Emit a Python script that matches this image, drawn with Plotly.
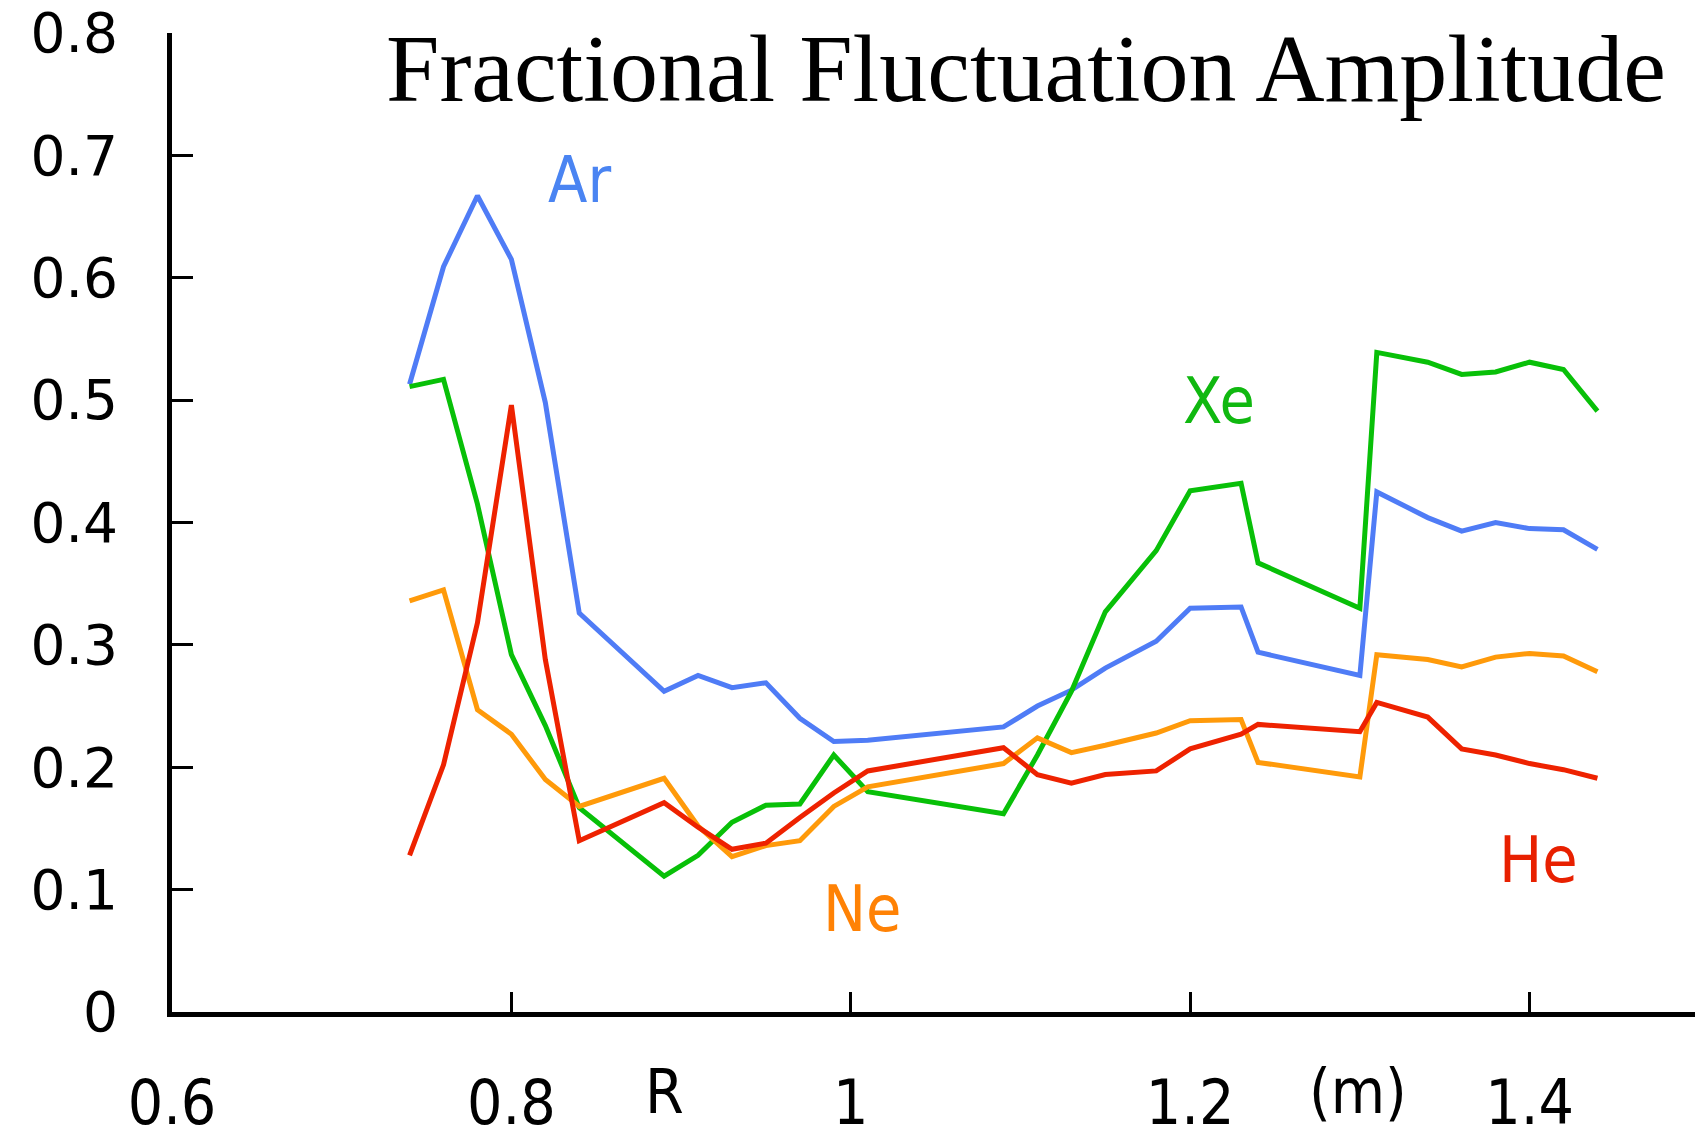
import plotly.graph_objects as go

# Major radius R (m) of each measurement point
r_ar = [0.74, 0.76, 0.78, 0.80, 0.82, 0.84, 0.89, 0.91, 0.93, 0.95, 0.97, 0.99, 1.01,
        1.09, 1.11, 1.13, 1.15, 1.18, 1.20, 1.23, 1.24, 1.30, 1.31, 1.34, 1.36, 1.38,
        1.40, 1.42, 1.44]
r_xe = r_ar
r_ne = r_ar
r_he = r_ar

# Fractional fluctuation amplitude for each gas
amp_ar = [0.513, 0.609, 0.667, 0.615, 0.498, 0.326, 0.262, 0.275, 0.265, 0.269, 0.240,
          0.221, 0.222, 0.233, 0.250, 0.263, 0.281, 0.303, 0.330, 0.331, 0.294, 0.275,
          0.425, 0.404, 0.393, 0.400, 0.395, 0.394, 0.378]
amp_xe = [0.511, 0.517, 0.415, 0.292, 0.234, 0.167, 0.111, 0.128, 0.155, 0.169, 0.170,
          0.210, 0.180, 0.162, 0.210, 0.262, 0.327, 0.377, 0.426, 0.432, 0.367, 0.330,
          0.539, 0.531, 0.521, 0.523, 0.531, 0.525, 0.491]
amp_ne = [0.336, 0.345, 0.247, 0.227, 0.190, 0.168, 0.191, 0.152, 0.127, 0.136, 0.140,
          0.168, 0.184, 0.203, 0.224, 0.212, 0.218, 0.228, 0.238, 0.239, 0.204, 0.192,
          0.292, 0.288, 0.282, 0.290, 0.293, 0.291, 0.278]
amp_he = [0.128, 0.202, 0.318, 0.496, 0.288, 0.140, 0.171, 0.151, 0.133, 0.138, 0.159,
          0.179, 0.197, 0.216, 0.194, 0.187, 0.194, 0.197, 0.215, 0.227, 0.235, 0.229,
          0.253, 0.241, 0.215, 0.210, 0.203, 0.198, 0.191]

series = [
    ("Ar", r_ar, amp_ar, "#4f7cf6", "#4a84f2", 0.840, 0.680),
    ("Xe", r_xe, amp_xe, "#08c008", "#10b810", 1.217, 0.499),
    ("Ne", r_ne, amp_ne, "#ff9a0a", "#ff8205", 1.007, 0.084),
    ("He", r_he, amp_he, "#ee2200", "#e82000", 1.405, 0.124),
]

x_ticks = [0.6, 0.8, 1.0, 1.2, 1.4]
y_ticks = [0, 0.1, 0.2, 0.3, 0.4, 0.5, 0.6, 0.7, 0.8]

sans = "DejaVu Sans"
cond = "DejaVu Sans Condensed, DejaVu Sans"
serif = "Liberation Serif, Times New Roman, serif"

fig = go.Figure()
for name, xs, ys, line_color, _, _, _ in series:
    fig.add_trace(go.Scatter(x=xs, y=ys, mode="lines", name=name,
                             line=dict(color=line_color, width=5),
                             showlegend=False))

annotations = []
for name, _, _, _, text_color, lx, ly in series:
    annotations.append(dict(x=lx, y=ly, xref="x", yref="y", text=name,
                            showarrow=False, xanchor="center", yanchor="middle",
                            font=dict(family=cond, size=64, color=text_color)))

annotations += [
    dict(x=1.103, y=0.771, xref="x", yref="y", text="Fractional Fluctuation Amplitude",
         showarrow=False, xanchor="center", yanchor="middle",
         font=dict(family=serif, size=96, color="black")),
    # axis caption split around the tick labels
    dict(x=0.890, y=-0.081, xref="x", yref="paper", text="R", showarrow=False,
         xanchor="center", yanchor="middle",
         font=dict(family=cond, size=62, color="black")),
    dict(x=1.299, y=-0.081, xref="x", yref="paper", text="(m)", showarrow=False,
         xanchor="center", yanchor="middle",
         font=dict(family=cond, size=62, color="black")),
]

fig.update_layout(
    width=1695, height=1140,
    margin=dict(l=172, r=0, t=33, b=128, pad=0),
    paper_bgcolor="white", plot_bgcolor="white",
    annotations=annotations,
)

fig.update_xaxes(range=[0.6, 1.4975], tickvals=x_ticks, ticktext=["0.6", "0.8", "1", "1.2", "1.4"],
                 automargin=False, ticklabeloverflow="allow",
                 showgrid=False, zeroline=False, showline=True, linecolor="black", linewidth=5,
                 ticks="inside", ticklen=20, tickwidth=3, tickcolor="black",
                 ticklabelstandoff=33,
                 tickfont=dict(family=cond, size=62, color="black"))
fig.update_yaxes(range=[0, 0.8], tickvals=y_ticks,
                 ticktext=["0", "0.1", "0.2", "0.3", "0.4", "0.5", "0.6", "0.7", "0.8"],
                 automargin=False, ticklabeloverflow="allow",
                 showgrid=False, zeroline=False, showline=True, linecolor="black", linewidth=5,
                 ticks="inside", ticklen=21, tickwidth=3, tickcolor="black",
                 ticklabelstandoff=38,
                 tickfont=dict(family=sans, size=55, color="black"))

fig.write_html("out.html")
